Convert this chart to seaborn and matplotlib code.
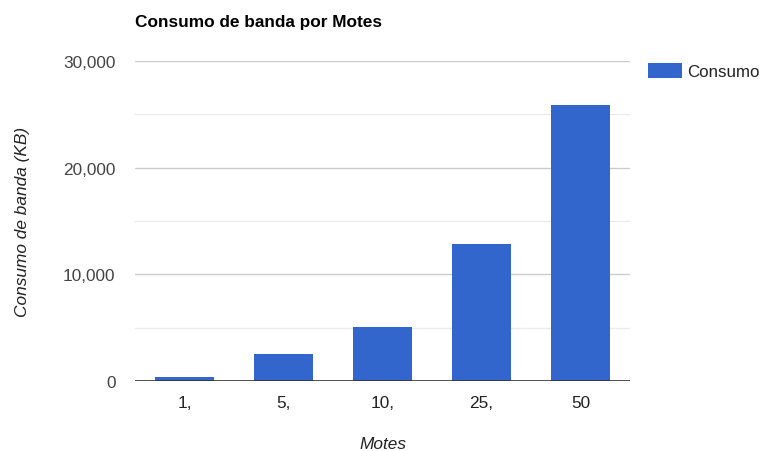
"""Bar chart: consumo de banda por Motes."""

import matplotlib
matplotlib.use("Agg")
import matplotlib.pyplot as plt
import matplotlib.ticker as mticker
from matplotlib.patches import Patch
import pandas as pd
import seaborn as sns

motes = ["1,", "5,", "10,", "25,", "50"]
consumo = [420, 2530, 5050, 12800, 25850]
y_ticks = [0, 10000, 20000, 30000]
minor_ticks = [5000, 15000, 25000]

BAR_COLOR = "#3366CC"


def plot_chart() -> None:
    sns.set_style("white")
    plt.rcParams["font.family"] = ["Liberation Sans", "DejaVu Sans"]

    df = pd.DataFrame({"Motes": motes, "Consumo": consumo})

    fig = plt.figure(figsize=(7.63, 4.52), dpi=100)
    ax = fig.add_axes([135 / 763, 1 - 382 / 452, 495 / 763, 320 / 452])

    sns.barplot(data=df, x="Motes", y="Consumo", order=motes,
                color=BAR_COLOR, saturation=1, width=0.6, ax=ax, zorder=3,
                linewidth=0)

    ax.set_xlim(-0.5, len(motes) - 0.5)
    ax.set_ylim(0, 30000)
    ax.yaxis.set_major_locator(mticker.FixedLocator(y_ticks))
    ax.yaxis.set_minor_locator(mticker.FixedLocator(minor_ticks))
    ax.yaxis.set_major_formatter(mticker.StrMethodFormatter("{x:,.0f}"))
    ax.grid(axis="y", which="major", color="#cccccc", linewidth=1, zorder=0)
    ax.grid(axis="y", which="minor", color="#ebebeb", linewidth=1, zorder=0)
    ax.axhline(0, color="#333333", linewidth=1.2, zorder=4)

    for side in ["top", "right", "left", "bottom"]:
        ax.spines[side].set_visible(False)

    ax.tick_params(axis="y", which="both", length=0, pad=14,
                   labelsize=12.4, labelcolor="#444444")
    ax.tick_params(axis="x", length=0, pad=10,
                   labelsize=12.4, labelcolor="#222222")

    ax.set_xlabel("Motes", fontsize=12.4, fontstyle="italic",
                  color="#222222", labelpad=19)
    ax.set_ylabel("Consumo de banda (KB)", fontsize=12.4,
                  fontstyle="italic", color="#222222", labelpad=24)

    fig.text(135 / 763, 1 - 22 / 452, "Consumo de banda por Motes",
             fontsize=12.4, fontweight="bold", color="#000000",
             ha="left", va="center")

    handle = Patch(facecolor=BAR_COLOR, edgecolor="none", label="Consumo")
    fig.legend(handles=[handle], loc="upper left",
               bbox_to_anchor=(641 / 763, 1 - 57 / 452), frameon=False,
               fontsize=12.2, handlelength=2.0, handleheight=1.0,
               handletextpad=0.35, borderaxespad=0, labelcolor="#222222")

    fig.savefig("out.png", dpi=100)
    plt.close(fig)


if __name__ == "__main__":
    plot_chart()
